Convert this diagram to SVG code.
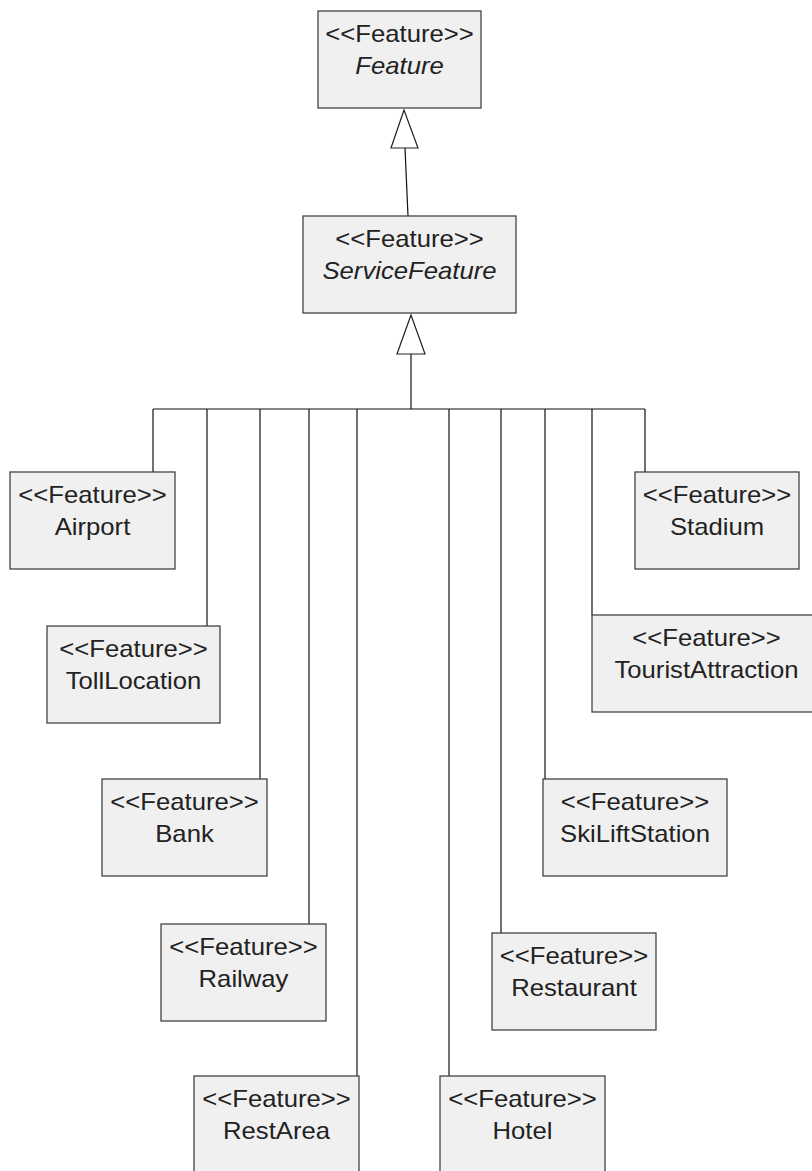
<svg xmlns="http://www.w3.org/2000/svg" width="812" height="1171" viewBox="0 0 812 1171">
<style>
.box{fill:#f0f0f0;stroke:#444;stroke-width:1.3}
text{font-family:"Liberation Sans",Arial,sans-serif;font-size:24px;fill:#222;text-anchor:middle}
.it{font-style:italic}
.ln{stroke:#111;stroke-width:1.2;fill:none}
.tri{fill:#fff;stroke:#222;stroke-width:1.2}
</style>
<rect width="812" height="1171" fill="#fff"/>
<g id="connectors">
<line class="ln" x1="405" y1="148" x2="408" y2="216"/>
<polygon class="tri" points="404,110 391,148 418,148"/>
<line class="ln" x1="411" y1="354" x2="411" y2="409"/>
<polygon class="tri" points="411,315 397,354 425,354"/>
<line class="ln" x1="153" y1="409" x2="645" y2="409"/>
<line class="ln" x1="153" y1="409" x2="153" y2="472"/>
<line class="ln" x1="207" y1="409" x2="207" y2="626"/>
<line class="ln" x1="260" y1="409" x2="260" y2="779"/>
<line class="ln" x1="309" y1="409" x2="309" y2="924"/>
<line class="ln" x1="357" y1="409" x2="357" y2="1076"/>
<line class="ln" x1="449" y1="409" x2="449" y2="1076"/>
<line class="ln" x1="501" y1="409" x2="501" y2="933"/>
<line class="ln" x1="545" y1="409" x2="545" y2="779"/>
<line class="ln" x1="592" y1="409" x2="592" y2="615"/>
<line class="ln" x1="645" y1="409" x2="645" y2="472"/>
</g>
<g id="Feature">
<rect class="box" x="318" y="11" width="163" height="97"/>
<g transform="translate(399.5,0) scale(1.07,1)"><text x="0" y="42">&lt;&lt;Feature&gt;&gt;</text><text class="it" x="0" y="74">Feature</text></g>
</g>
<g id="ServiceFeature">
<rect class="box" x="303" y="216" width="213" height="97"/>
<g transform="translate(409.5,0) scale(1.07,1)"><text x="0" y="247">&lt;&lt;Feature&gt;&gt;</text><text class="it" x="0" y="279">ServiceFeature</text></g>
</g>
<g id="Airport">
<rect class="box" x="10" y="472" width="165" height="97"/>
<g transform="translate(92.5,0) scale(1.07,1)"><text x="0" y="503">&lt;&lt;Feature&gt;&gt;</text><text x="0" y="535">Airport</text></g>
</g>
<g id="TollLocation">
<rect class="box" x="47" y="626" width="173" height="97"/>
<g transform="translate(133.5,0) scale(1.07,1)"><text x="0" y="657">&lt;&lt;Feature&gt;&gt;</text><text x="0" y="689">TollLocation</text></g>
</g>
<g id="Bank">
<rect class="box" x="102" y="779" width="165" height="97"/>
<g transform="translate(184.5,0) scale(1.07,1)"><text x="0" y="810">&lt;&lt;Feature&gt;&gt;</text><text x="0" y="842">Bank</text></g>
</g>
<g id="Railway">
<rect class="box" x="161" y="924" width="165" height="97"/>
<g transform="translate(243.5,0) scale(1.07,1)"><text x="0" y="955">&lt;&lt;Feature&gt;&gt;</text><text x="0" y="987">Railway</text></g>
</g>
<g id="RestArea">
<rect class="box" x="194" y="1076" width="165" height="97"/>
<g transform="translate(276.5,0) scale(1.07,1)"><text x="0" y="1107">&lt;&lt;Feature&gt;&gt;</text><text x="0" y="1139">RestArea</text></g>
</g>
<g id="Hotel">
<rect class="box" x="440" y="1076" width="165" height="97"/>
<g transform="translate(522.5,0) scale(1.07,1)"><text x="0" y="1107">&lt;&lt;Feature&gt;&gt;</text><text x="0" y="1139">Hotel</text></g>
</g>
<g id="Restaurant">
<rect class="box" x="492" y="933" width="164" height="97"/>
<g transform="translate(574,0) scale(1.07,1)"><text x="0" y="964">&lt;&lt;Feature&gt;&gt;</text><text x="0" y="996">Restaurant</text></g>
</g>
<g id="SkiLiftStation">
<rect class="box" x="543" y="779" width="184" height="97"/>
<g transform="translate(635,0) scale(1.07,1)"><text x="0" y="810">&lt;&lt;Feature&gt;&gt;</text><text x="0" y="842">SkiLiftStation</text></g>
</g>
<g id="TouristAttraction">
<rect class="box" x="592" y="615" width="229" height="97"/>
<g transform="translate(706.5,0) scale(1.07,1)"><text x="0" y="646">&lt;&lt;Feature&gt;&gt;</text><text x="0" y="678">TouristAttraction</text></g>
</g>
<g id="Stadium">
<rect class="box" x="635" y="472" width="164" height="97"/>
<g transform="translate(717,0) scale(1.07,1)"><text x="0" y="503">&lt;&lt;Feature&gt;&gt;</text><text x="0" y="535">Stadium</text></g>
</g>
</svg>
